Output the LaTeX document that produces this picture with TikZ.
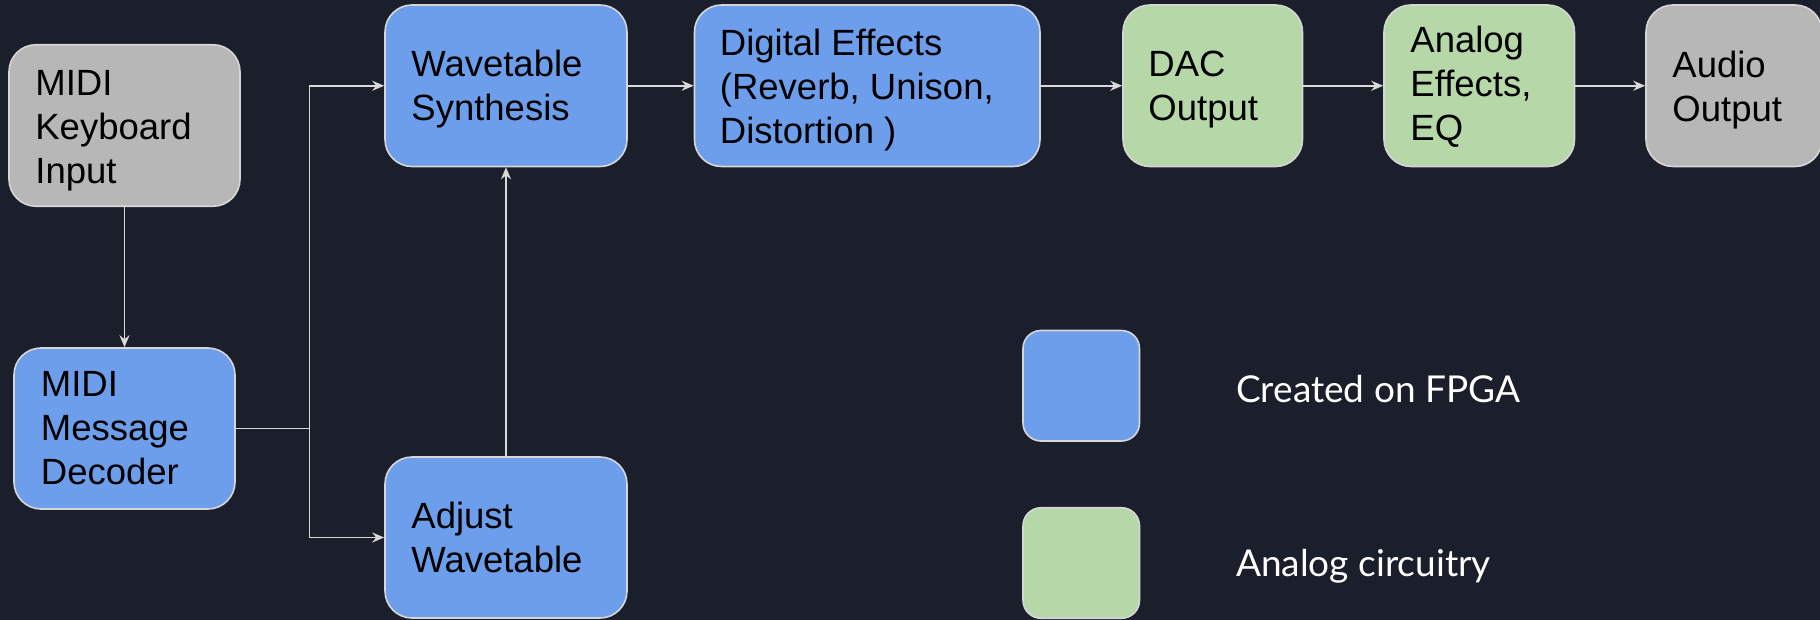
\documentclass[tikz,border=0pt]{standalone}
\usepackage{fontspec}
\setmainfont{Liberation Sans}
\newfontfamily\latofont{Lato}
\usetikzlibrary{arrows.meta,positioning}
\definecolor{bgc}{HTML}{1B1F2B}
\definecolor{blueb}{HTML}{6D9EEB}
\definecolor{greenb}{HTML}{B6D7A8}
\definecolor{grayb}{HTML}{B7B7B7}
\definecolor{edgec}{HTML}{D6D6D6}
\definecolor{linec}{HTML}{D9D9D9}
\begin{document}
\begin{tikzpicture}[x=1pt,y=-1pt,
  box/.style={draw=edgec, line width=1.6pt, rounded corners=27pt, inner sep=0pt},
  boxtext/.style={anchor=west, inner sep=0pt, align=left, font=\fontsize{36.5}{44}\selectfont, text=black},
  legbox/.style={draw=edgec, line width=1.6pt, rounded corners=18pt, minimum width=116.5pt, minimum height=110.5pt, inner sep=0pt},
  legtext/.style={anchor=west, font=\latofont\fontsize{37}{44}\selectfont, text=white, inner sep=0pt},
  conn/.style={draw=linec, line width=1.8pt, -{Stealth[length=12pt,width=10pt,inset=4pt]}},
  plain/.style={draw=linec, line width=1.8pt}]
\useasboundingbox (0,0) rectangle (1820,620);
\fill[bgc] (0,0) rectangle (1820,620);
% boxes: center, width, height
\node[box, fill=grayb, minimum width=231pt, minimum height=161.5pt] (kbd) at (124.5,125.5) {};
\node[box, fill=blueb, minimum width=221pt, minimum height=161pt] (dec) at (124.5,428.5) {};
\node[box, fill=blueb, minimum width=242pt, minimum height=161.5pt] (wav) at (506,85.75) {};
\node[box, fill=blueb, minimum width=242pt, minimum height=161pt] (adj) at (506,537.5) {};
\node[box, fill=blueb, minimum width=345.5pt, minimum height=161.5pt] (dig) at (867.25,85.75) {};
\node[box, fill=greenb, minimum width=179.5pt, minimum height=161.5pt] (dac) at (1212.75,85.75) {};
\node[box, fill=greenb, minimum width=190.5pt, minimum height=161.5pt] (ana) at (1479.25,85.75) {};
\node[box, fill=grayb, minimum width=176pt, minimum height=161.5pt] (aud) at (1734,85.75) {};
% box texts
\node[boxtext] (kbdT) at ([xshift=27pt,yshift=-5.2pt]kbd.west) {MIDI\\Keyboard\\Input};
\node[boxtext] (decT) at ([xshift=27.5pt,yshift=0.4pt]dec.west) {MIDI\\Message\\Decoder};
\node[boxtext] (wavT) at ([xshift=27pt,yshift=-3.8pt]wav.west) {Wavetable\\Synthesis};
\node[boxtext] (adjT) at ([xshift=27pt,yshift=0pt]adj.west) {Adjust\\Wavetable};
\node[boxtext] (digT) at ([xshift=26pt,yshift=-4pt]dig.west) {Digital Effects\\(Reverb, Unison,\\Distortion )};
\node[boxtext] (dacT) at ([xshift=26pt,yshift=-4pt]dac.west) {DAC\\Output};
\node[boxtext] (anaT) at ([xshift=27pt,yshift=-0.8pt]ana.west) {Analog\\Effects,\\EQ};
\node[boxtext] (audT) at ([xshift=27pt,yshift=-4pt]aud.west) {Audio\\Output};
% legend
\node[legbox, fill=blueb] (leg1) at (1081.25,385.75) {};
\node[legbox, fill=greenb] (leg2) at (1081.25,563) {};
\node[legtext] (leg1t) at (1236,389) {Created on FPGA};
\node[legtext] (leg2t) at (1236,566) {Analog circuitry};
% connectors
\draw[conn] (kbd.south) -- (dec.north);
\coordinate (j) at (309.5,428.5);
\draw[plain] (dec.east) -- (j);
\draw[conn] (j) |- (wav.west);
\draw[conn] (j) |- (adj.west);
\draw[conn] (adj.north) -- (wav.south);
\draw[conn] (wav.east) -- (dig.west);
\draw[conn] (dig.east) -- (dac.west);
\draw[conn] (dac.east) -- (ana.west);
\draw[conn] (ana.east) -- (aud.west);
\end{tikzpicture}
\end{document}
